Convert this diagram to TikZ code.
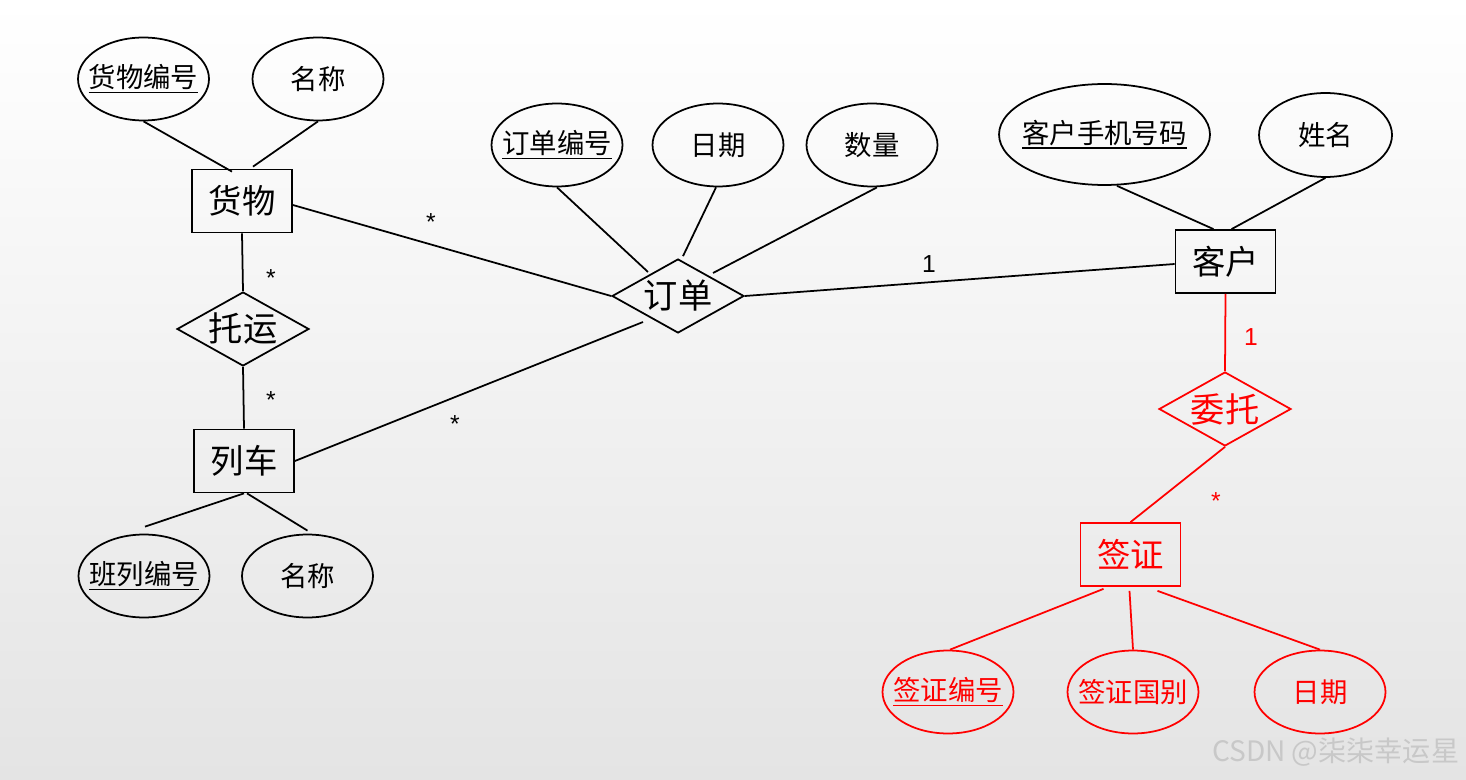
\documentclass[tikz,border=0pt]{standalone}
\usepackage{fontspec}
\newfontfamily\cjk{Noto Sans CJK SC}
\newfontfamily\hel{Liberation Sans}
\usetikzlibrary{shapes.geometric,calc}
\definecolor{bgbot}{RGB}{228,228,228}
\definecolor{wmgray}{RGB}{200,200,200}
\newsavebox\ulbox
\newcommand\ulx[1]{\sbox\ulbox{#1}\rlap{\raisebox{-3.2pt}{\rule{\wd\ulbox}{1pt}}}\usebox\ulbox}
\begin{document}
\begin{tikzpicture}[x=0.02cm,y=-0.02cm, line width=1pt,
  ent/.style={draw, rectangle, minimum width=2cm, minimum height=1.26cm, inner sep=0pt, font=\cjk\fontsize{19}{19}\selectfont},
  rel/.style={draw, diamond, aspect=1.78, minimum width=2.64cm, minimum height=1.48cm, inner sep=0pt},
  attr/.style={draw, ellipse, minimum width=2.62cm, minimum height=1.66cm, inner sep=0pt},
  lab/.style={font=\cjk\fontsize{15.6}{16}\selectfont, inner sep=0pt},
  rlab/.style={font=\cjk\fontsize{19.5}{20}\selectfont, inner sep=0pt},
  card/.style={font=\hel\fontsize{14}{14}\selectfont, anchor=base, inner sep=0pt},
  hl/.style={draw=red, text=red}
]
\useasboundingbox (0,0) rectangle (1466,780);
\shade[top color=white, bottom color=bgbot] (0,0) rectangle (1466,780);

% entities
\node[ent] (hw) at (242,201) {货物};
\node[ent] (lc) at (244,461) {列车};
\node[ent] (kh) at (1225.5,261.5) {客户};
\node[ent,hl] (qz) at (1130.5,554.5) {签证};

% relationships
\node[rel, label={[rlab]center:托运}] (ty) at (243,329) {};
\node[rel, label={[rlab]center:订单}] (dd) at (678,296) {};
\node[rel, draw=red, label={[rlab,red]center:委托}] (wt) at (1225,409) {};

% attributes
\node[attr, label={[lab]center:\ulx{货物编号}}] (hwbh) at (143.5,79) {};
\node[attr, label={[lab]center:名称}] (mc1) at (318,79) {};
\node[attr, label={[lab]center:\ulx{订单编号}}] (ddbh) at (557,145) {};
\node[attr, label={[lab]center:日期}] (rq) at (718,145) {};
\node[attr, label={[lab]center:数量}] (sl) at (872,145) {};
\node[attr, minimum width=4.22cm, minimum height=2.02cm, label={[lab]center:\ulx{客户手机号码}}] (sjh) at (1104.5,134.5) {};
\node[attr, minimum width=2.66cm, minimum height=1.68cm, label={[lab]center:姓名}] (xm) at (1325.5,135) {};
\node[attr, label={[lab]center:\ulx{班列编号}}] (bl) at (144,576) {};
\node[attr, label={[lab]center:名称}] (mc2) at (307.5,576) {};
\node[attr, draw=red, label={[lab,red]center:\ulx{签证编号}}] (qzbh) at (948,692) {};
\node[attr, draw=red, label={[lab,red]center:签证国别}] (gb) at (1133,692) {};
\node[attr, draw=red, label={[lab,red]center:日期}] (rq2) at (1320,692) {};

% connectors
\draw (hwbh.south) -- ($(hw.north)+(-10,3)$);
\draw (mc1.south) -- ($(hw.north)+(11,-2)$);
\draw (hw.south) -- (ty.north);
\draw (ty.south) -- (lc.north);
\draw (lc.south) -- ($(bl.north)+(1,-7)$);
\draw ($(lc.south)+(3,0)$) -- ($(mc2.north)+(0,-3)$);
\draw ($(hw.east)+(0,4)$) -- (dd.west);
\draw (lc.east) -- ($(dd.center)+(-35,26)$);
\draw (ddbh.south) -- ($(dd.center)+(-30,-24)$);
\draw ($(rq.south)+(-2,0)$) -- ($(dd.north)+(5,-2)$);
\draw ($(sl.south)+(5,0)$) -- ($(dd.center)+(35,-23)$);
\draw (dd.east) -- ($(kh.west)+(0,2.5)$);
\draw ($(sjh.south)+(12.5,0)$) -- ($(kh.north)+(-12,0)$);
\draw (xm.south) -- ($(kh.north)+(6,0)$);
\draw[red] (kh.south) -- (wt.north);
\draw[red] (wt.south) -- (qz.north);
\draw[red] ($(qz.south)+(-27,2)$) -- ($(qzbh.north)+(2,0)$);
\draw[red] ($(qz.south)+(-1,4)$) -- (gb.north);
\draw[red] ($(qz.south)+(27,4)$) -- (rq2.north);

% cardinalities
\node[card] (c1) at (431,231) {*};
\node[card] (c2) at (271,287) {*};
\node[card] (c3) at (271,408) {*};
\node[card] (c4) at (455,432) {*};
\node[card] (c5) at (929,273) {1};
\node[card, text=red] (c6) at (1251,345) {1};
\node[card, text=red] (c7) at (1216,509) {*};

% watermark
\node[font=\cjk\fontsize{16}{16}\selectfont, text=wmgray, anchor=east, inner sep=0pt] (wmk) at (1460,752) {CSDN @柒柒幸运星};
\end{tikzpicture}
\end{document}
